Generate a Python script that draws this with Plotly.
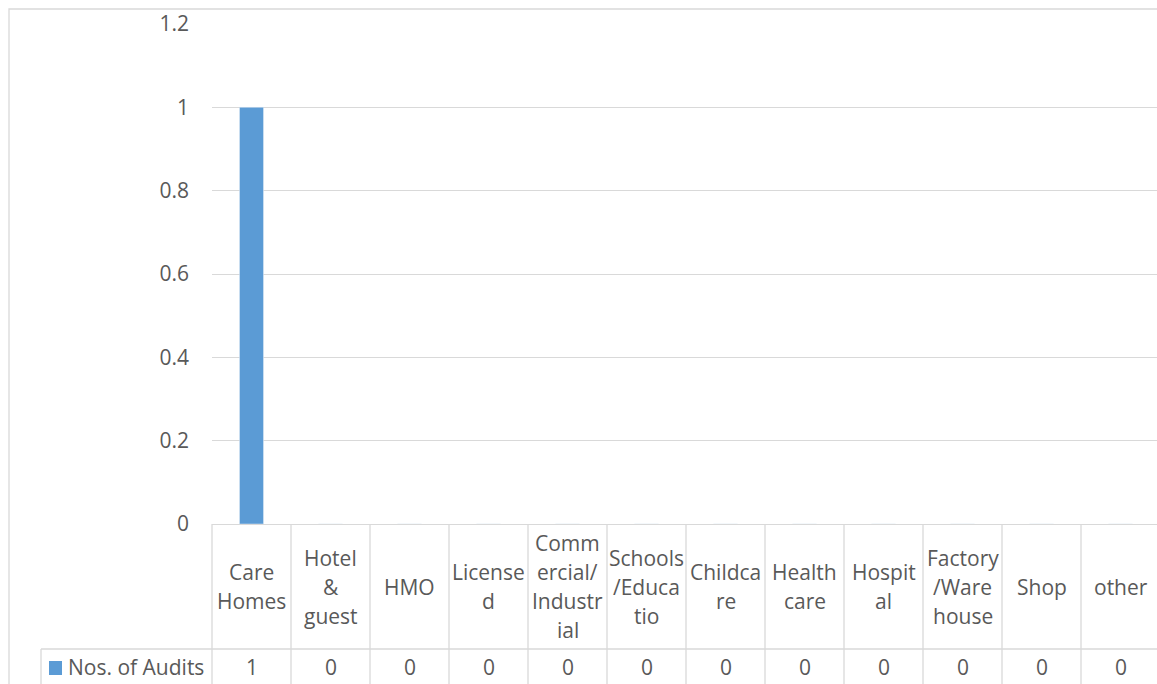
import plotly.graph_objects as go

# ---- data ----
categories = ["Care Homes", "Hotel & guest", "HMO", "Licensed", "Commercial/Industrial",
              "Schools/Educatio", "Childcare", "Health care", "Hospital",
              "Factory/Warehouse", "Shop", "other"]
header_lines = [["Care", "Homes"], ["Hotel", "&", "guest"], ["HMO"], ["License", "d"],
                ["Comm", "ercial/", "Industr", "ial"], ["Schools", "/Educa", "tio"],
                ["Childca", "re"], ["Health", "care"], ["Hospit", "al"],
                ["Factory", "/Ware", "house"], ["Shop"], ["other"]]
values = [1, 0, 0, 0, 0, 0, 0, 0, 0, 0, 0, 0]
series_name = "Nos. of Audits"
y_ticks = [0, 0.2, 0.4, 0.6, 0.8, 1, 1.2]
y_tick_text = ["0", "0.2", "0.4", "0.6", "0.8", "1", "1.2"]

# ---- styles / layout constants ----
W, H = 1157, 684
L, T, B = 212, 24, 160
PLOT_W = W - L
PLOT_H = H - T - B
CAT_PX = 79
BAR_COLOR = "#5b9bd5"
GRID = "#d9d9d9"
TXT = "#595959"
FONT = "Open Sans"
FS = 21


def py(p):
    return (H - B - p) / PLOT_H


def px(p):
    return (p - L) / PLOT_W


xs = list(range(len(categories)))

fig = go.Figure()
fig.add_trace(go.Bar(x=xs, y=values, name=series_name, marker_color=BAR_COLOR,
                     width=24 / CAT_PX, showlegend=False, hoverinfo="skip"))

shapes = []
annotations = []

# outer chart border
shapes.append(dict(type="rect", xref="paper", yref="paper", x0=px(9), x1=px(W + 5),
                   y0=py(H + 5), y1=py(9), line=dict(color=GRID, width=1.3)))

# table: left border of category columns
shapes.append(dict(type="line", xref="paper", yref="paper", x0=0, x1=0,
                   y0=py(524), y1=py(H + 5), line=dict(color=GRID, width=1.3)))
# column separators
for i in range(1, len(categories)):
    shapes.append(dict(type="line", xref="x", yref="paper", x0=i - 0.5, x1=i - 0.5,
                       y0=py(524), y1=py(H + 5), line=dict(color=GRID, width=1.3)))
# header bottom line (extends to legend cell)
shapes.append(dict(type="line", xref="paper", yref="paper", x0=px(41), x1=px(W + 5),
                   y0=py(649), y1=py(649), line=dict(color=GRID, width=1.3)))
# legend cell left border
shapes.append(dict(type="line", xref="paper", yref="paper", x0=px(41), x1=px(41),
                   y0=py(649), y1=py(H + 5), line=dict(color=GRID, width=1.3)))
# legend marker
shapes.append(dict(type="rect", xref="paper", yref="paper", x0=px(49), x1=px(62),
                   y0=py(675), y1=py(661), fillcolor=BAR_COLOR, line=dict(width=0)))

# header texts
LINE_H = 29
for i, lines in enumerate(header_lines):
    n = len(lines)
    for k, t in enumerate(lines):
        yc = 586.5 + (k - (n - 1) / 2) * LINE_H
        annotations.append(dict(x=i, y=py(yc), xref="x", yref="paper", text=t,
                                showarrow=False, xanchor="center", yanchor="middle",
                                font=dict(family=FONT, size=FS, color=TXT)))
# data row values
for i, v in enumerate(values):
    annotations.append(dict(x=i, y=py(667), xref="x", yref="paper", text=str(v),
                            showarrow=False, xanchor="center", yanchor="middle",
                            font=dict(family=FONT, size=FS, color=TXT)))
# legend label
annotations.append(dict(x=px(66), y=py(667), xref="paper", yref="paper", text=series_name,
                        showarrow=False, xanchor="left", yanchor="middle",
                        font=dict(family=FONT, size=FS, color=TXT)))

fig.update_layout(
    width=W, height=H,
    margin=dict(l=L, r=0, t=T, b=B),
    paper_bgcolor="white", plot_bgcolor="white",
    font=dict(family=FONT, size=FS, color=TXT),
    shapes=shapes, annotations=annotations,
    showlegend=False,
    xaxis=dict(range=[-0.5, -0.5 + PLOT_W / CAT_PX], showticklabels=False, showgrid=False,
               zeroline=False, showline=False, ticks="", fixedrange=True),
    yaxis=dict(range=[0, 1.2], tickvals=y_ticks, ticktext=y_tick_text, showgrid=True,
               gridcolor=GRID, gridwidth=1.3, zeroline=True, zerolinecolor=GRID,
               zerolinewidth=1.3, showline=False, ticks="", ticklabelstandoff=22,
               tickfont=dict(family=FONT, size=FS, color=TXT), fixedrange=True),
)

fig.write_html("out.html")
